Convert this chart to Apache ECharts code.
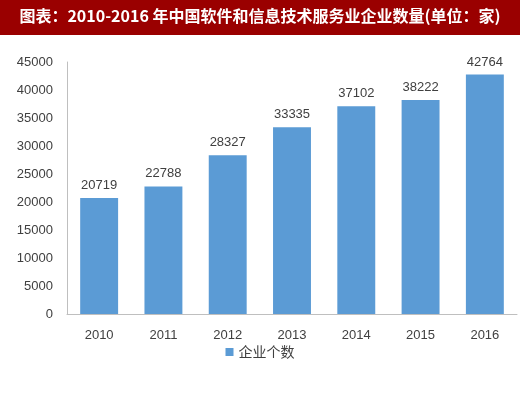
<!DOCTYPE html>
<html><head><meta charset="utf-8">
<script src="https://cdn.jsdelivr.net/npm/echarts@6/dist/echarts.min.js"></script>
<style>html,body{margin:0;padding:0;background:#fff}#c{width:520px;height:394px}</style>
</head><body><div id="c"></div>
<script>
var titleText = '图表：2010-2016 年中国软件和信息技术服务业企业数量(单位：家)';
var categories = ['2010','2011','2012','2013','2014','2015','2016'];
var seriesName = '企业个数';
var values = [20719, 22788, 28327, 33335, 37102, 38222, 42764];
var yTicks = [0,5000,10000,15000,20000,25000,30000,35000,40000,45000];

var chart = echarts.init(document.getElementById('c'));
var font = '"Liberation Sans", "Noto Sans CJK SC", sans-serif';
chart.setOption({
  animation: false,
  graphic: [
    {type:'rect', left:0, top:0, shape:{width:520, height:35}, style:{fill:'#9a0000'}, z:0},
    {type:'text', left:'center', top:8, style:{text:titleText, fill:'#fff', font:'bold 16px "Noto Sans CJK SC", sans-serif'}, z:1}
  ],
  grid: {left:67, right:3, top:62, bottom:80, containLabel:false},
  legend: {
    data:[seriesName], bottom:30, left:'center', itemWidth:8, itemHeight:8, itemGap:6,
    icon:'rect', textStyle:{fontFamily:'"Noto Sans CJK SC", sans-serif', fontSize:14, color:'#404040'}
  },
  xAxis: {
    type:'category', data:categories,
    axisLine:{lineStyle:{color:'#bfbfbf', width:1}},
    axisTick:{show:false},
    axisLabel:{color:'#404040', fontSize:13, fontFamily:font, margin:15}
  },
  yAxis: {
    type:'value', min:0, max:45000, interval:5000,
    axisLine:{show:true, lineStyle:{color:'#bfbfbf', width:1}},
    axisTick:{show:false},
    splitLine:{show:false},
    axisLabel:{color:'#404040', fontSize:13, fontFamily:font, margin:14, formatter:function(v){return String(v);}}
  },
  series: [{
    name:seriesName, type:'bar', data:values, barWidth:'59%',
    itemStyle:{color:'#5b9bd5'},
    label:{show:true, position:'top', color:'#404040', fontSize:13, fontFamily:font, distance:6}
  }]
});
</script></body></html>
